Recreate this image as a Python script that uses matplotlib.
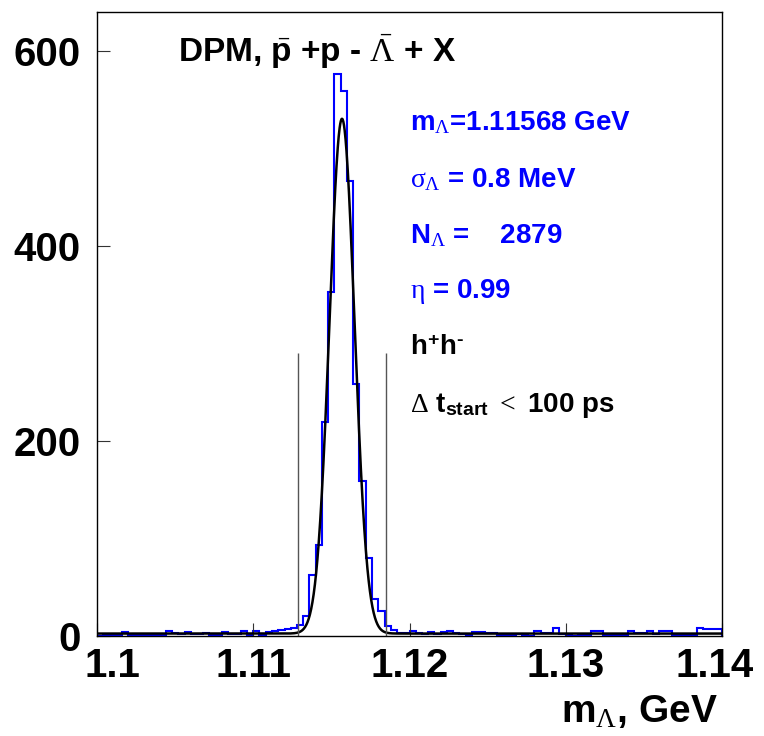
import numpy as np
import matplotlib
matplotlib.use('Agg')
import matplotlib.pyplot as plt
from matplotlib.transforms import ScaledTranslation

# --- data ---
bin_lo = 1.10
bin_hi = 1.14
n_bins = 100
counts = [0, 1, 1, 1, 4, 1, 1, 1, 1, 1,
          1, 5, 3, 2, 4, 2, 2, 3, 1, 1,
          4, 2, 2, 5, 1, 5, 1, 4, 5, 6,
          7, 8, 11, 21, 63, 93, 220, 353, 576, 559,
          467, 258, 159, 80, 38, 26, 10, 6, 3, 3,
          5, 3, 2, 4, 2, 4, 5, 3, 2, 1,
          4, 4, 3, 3, 1, 1, 1, 2, 1, 0,
          5, 3, 3, 8, 2, 1, 0, 1, 1, 5,
          5, 1, 1, 1, 1, 5, 3, 3, 5, 2,
          5, 5, 1, 1, 1, 1, 8, 7, 7, 7]

# gaussian fit (from the legend / drawn curve)
fit_mean = 1.11568
fit_sigma = 0.0008
fit_amp = 528.0
fit_bkg = 2.5

# selection window lines
cut_lo = 1.11288
cut_hi = 1.11849
cut_height = 290

xticks = [1.10, 1.11, 1.12, 1.13, 1.14]
xtick_labels = ['1.1', '1.11', '1.12', '1.13', '1.14']
yticks = [0, 200, 400, 600]
ytick_labels = ['0', '200', '400', '600']

info_blue = [r'm$_{\Lambda}$=1.11568 GeV',
             r'$\sigma_{\Lambda}$ = 0.8 MeV',
             r'N$_{\Lambda}$ =    2879',
             r'$\eta$ = 0.99']
info_black = [r'h$^{\mathbf{+}}$h$^{\mathbf{‐}}$',
              r'$\Delta$ t$_{\mathbf{start}}$ $<$ 100 ps']

# --- style ---
plt.rcParams['font.family'] = ['Liberation Sans', 'DejaVu Sans']
plt.rcParams['mathtext.fontset'] = 'custom'
plt.rcParams['mathtext.rm'] = 'Liberation Serif'
plt.rcParams['mathtext.it'] = 'Liberation Serif'
plt.rcParams['mathtext.bf'] = 'Liberation Sans:bold'

fig = plt.figure(figsize=(7.64, 7.36), dpi=100)
W, H = 764, 736
ax_l, ax_r, ax_t, ax_b = 97, 722, 12, 636
ax = fig.add_axes([ax_l / W, 1 - ax_b / H, (ax_r - ax_l) / W, (ax_b - ax_t) / H])

edges = np.linspace(bin_lo, bin_hi, n_bins + 1)
ax.stairs(counts, edges, color='#0000ff', linewidth=1.5, baseline=0)

xf = np.linspace(bin_lo, bin_hi, 2000)
yf = fit_amp * np.exp(-0.5 * ((xf - fit_mean) / fit_sigma) ** 2) + fit_bkg
ax.plot(xf, yf, color='black', linewidth=1.8)

ax.vlines([cut_lo, cut_hi], 0, cut_height, color='#555555', linewidth=1.0)

ax.set_xlim(bin_lo, bin_hi)
ax.set_ylim(0, 640)
ax.set_xticks(xticks)
ax.set_xticklabels(xtick_labels, fontsize=29, fontweight='bold')
ax.set_yticks(yticks)
ax.set_yticklabels(ytick_labels, fontsize=29, fontweight='bold')
ax.tick_params(axis='x', direction='in', length=9.5, width=0.8, color='#333333', pad=8)
ax.tick_params(axis='y', direction='in', length=9.5, width=0.8, color='#333333', pad=12)
for s in ax.spines.values():
    s.set_linewidth(1.0)

# nudge the edge labels inward like the original
xlabs = ax.get_xticklabels()
xlabs[0].set_transform(xlabs[0].get_transform() + ScaledTranslation(0.15, 0, fig.dpi_scale_trans))
xlabs[-1].set_transform(xlabs[-1].get_transform() + ScaledTranslation(-0.07, 0, fig.dpi_scale_trans))

# --- texts ---
def axy(py):
    return (ax_b - py) / (ax_b - ax_t)

ax.text((178 - ax_l) / (ax_r - ax_l), axy(52),
        r'DPM, $\bar{\mathbf{p}}$ +p - $\bar{\Lambda}$ + X',
        transform=ax.transAxes, fontsize=24, fontweight='bold', va='center', ha='left')

text_x = (410 - ax_l) / (ax_r - ax_l)
rows = [123, 180, 236, 292, 348, 405]
for txt, py in zip(info_blue + info_black, rows):
    col = '#0000ff' if txt in info_blue else 'black'
    ax.text(text_x, axy(py), txt, transform=ax.transAxes, fontsize=20,
            fontweight='bold', color=col, va='center', ha='left')

fig.text(718 / W, 1 - 712 / H, r'm$_{\Lambda}$, GeV', fontsize=28,
         fontweight='bold', ha='right', va='center')

fig.savefig('out.png', dpi=100)
